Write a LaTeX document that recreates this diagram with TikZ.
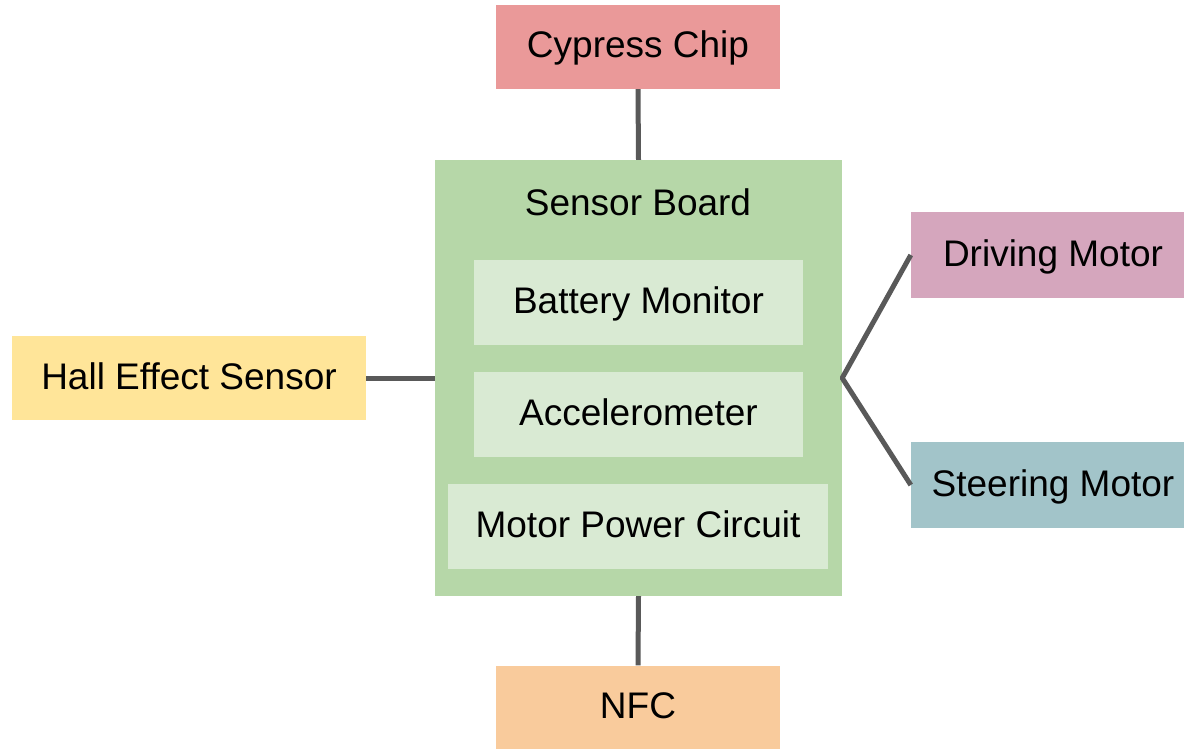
\documentclass[tikz,border=0pt]{standalone}
\usepackage{fontspec}
\setmainfont{Liberation Sans}
\definecolor{cred}{HTML}{EA9999}
\definecolor{cgreen}{HTML}{B6D7A8}
\definecolor{clgreen}{HTML}{D9EAD3}
\definecolor{cyellow}{HTML}{FFE599}
\definecolor{cpink}{HTML}{D5A6BD}
\definecolor{cteal}{HTML}{A2C4C9}
\definecolor{corange}{HTML}{F9CB9C}
\definecolor{cline}{HTML}{595959}
\begin{document}
\begin{tikzpicture}[x=1pt,y=-1pt,
  box/.style={rectangle, inner sep=0pt, draw=none, text height=30pt, text depth=8pt,
    font=\fontsize{37}{44}\selectfont},
  lbl/.style={inner sep=0pt, text height=30pt, text depth=8pt, font=\fontsize{37}{44}\selectfont},
  conn/.style={draw=cline, line width=5pt, line join=bevel}]
\clip (0,0) rectangle (1184,749);
\fill[white] (0,0) rectangle (1184,749);
% main board
\node[box, fill=cgreen, minimum width=407pt, minimum height=436pt] (board) at (638.5,378) {};
\node[lbl] (boardlbl) at (638,204) {Sensor Board};
\node[box, fill=clgreen, minimum width=329pt, minimum height=85pt] (batt) at (638.5,302.5) {Battery Monitor};
\node[box, fill=clgreen, minimum width=329pt, minimum height=85pt] (acc) at (638.5,414.5) {Accelerometer};
\node[box, fill=clgreen, minimum width=380pt, minimum height=85pt] (mpc) at (638,526.5) {Motor Power Circuit};
% outer boxes
\node[box, fill=cred, minimum width=284pt, minimum height=84pt] (cyp) at (638,47) {Cypress Chip};
\node[box, fill=corange, minimum width=284pt, minimum height=84pt] (nfc) at (638,707.5) {NFC};
\node[box, fill=cyellow, minimum width=354pt, minimum height=84pt] (hall) at (189,378) {Hall Effect Sensor};
\node[box, fill=cpink, minimum width=284pt, minimum height=86pt] (drive) at (1053,255) {Driving Motor};
\node[box, fill=cteal, minimum width=284pt, minimum height=86pt] (steer) at (1053,485) {Steering Motor};
% connectors
\draw[conn] (cyp.south) -- (board.north);
\draw[conn] (board.south) -- (nfc.north);
\draw[conn] (hall.east) -- (board.west);
\draw[conn] (drive.west) -- (board.east) -- (steer.west);
\end{tikzpicture}
\end{document}
